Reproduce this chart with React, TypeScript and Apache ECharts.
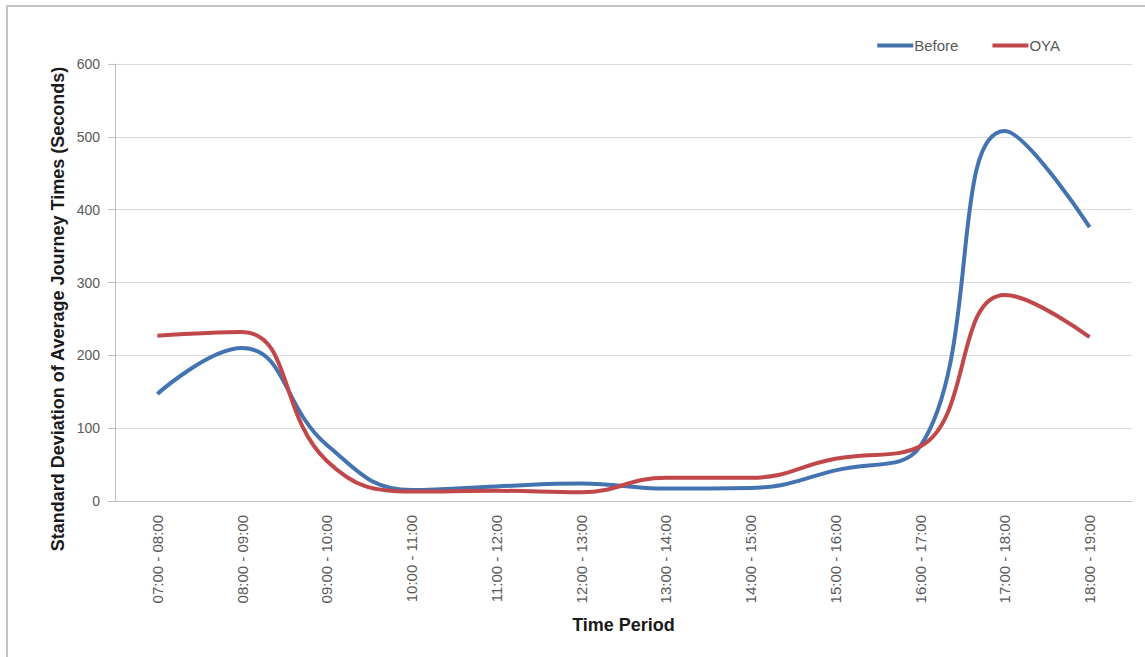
import React, { useEffect, useRef } from "react";
import * as echarts from "echarts";

const categories = [
  "07:00 - 08:00", "08:00 - 09:00", "09:00 - 10:00", "10:00 - 11:00",
  "11:00 - 12:00", "12:00 - 13:00", "13:00 - 14:00", "14:00 - 15:00",
  "15:00 - 16:00", "16:00 - 17:00", "17:00 - 18:00", "18:00 - 19:00",
];
const beforeValues = [147, 210, 77, 15, 20, 24, 17, 18, 42, 75, 508, 376];
const oyaValues = [227, 232, 55, 13, 14, 12, 32, 32, 58, 75, 283, 225];
const yTicks = { min: 0, max: 600, interval: 100 };
const yTitle = "Standard Deviation of Average Journey Times (Seconds)";

export default function App() {
  const ref = useRef<HTMLDivElement>(null);
  useEffect(() => {
    document.body.style.margin = "0";
    const chart = echarts.init(ref.current!, null, { renderer: "svg" });
    const font = "Liberation Sans, Arial, sans-serif";
    chart.setOption({
      animation: false,
      backgroundColor: "#ffffff",
      textStyle: { fontFamily: font },
      graphic: [
        {
          type: "rect",
          shape: { x: 7, y: 6, width: 1160, height: 660 },
          style: { fill: "none", stroke: "#c4c4c4", lineWidth: 2 },
          silent: true,
          z: -1,
        },
        {
          type: "text",
          x: 58,
          y: 309,
          rotation: Math.PI / 2,
          style: {
            text: yTitle,
            fill: "#1a1a1a",
            font: "bold 18px Liberation Sans, Arial, sans-serif",
            align: "center",
            verticalAlign: "middle",
          },
          silent: true,
        },
      ],
      legend: {
        right: 80,
        top: 33,
        itemWidth: 36,
        itemHeight: 4,
        itemGap: 34,
        icon: "rect",
        textStyle: { color: "#595959", fontSize: 15, fontFamily: "Liberation Sans Narrow, Arial Narrow, sans-serif", padding: [0, 0, 0, -4] },
        data: ["Before", "OYA"],
      },
      grid: { left: 115, right: 13, top: 64, bottom: 156 },
      xAxis: {
        type: "category",
        data: categories,
        boundaryGap: true,
        name: "Time Period",
        nameLocation: "middle",
        nameGap: 115,
        nameTextStyle: { fontWeight: "bold", fontSize: 18, color: "#1a1a1a" },
        axisLine: { lineStyle: { color: "#bfbfbf", width: 1 } },
        axisTick: { alignWithLabel: true, length: 6, lineStyle: { color: "#bfbfbf" } },
        axisLabel: { rotate: 90, color: "#595959", fontSize: 15, margin: 14 },
      },
      yAxis: {
        type: "value",
        min: yTicks.min,
        max: yTicks.max,
        interval: yTicks.interval,
        axisLine: { show: true, lineStyle: { color: "#bfbfbf" } },
        axisTick: { show: true, length: 7, lineStyle: { color: "#bfbfbf" } },
        axisLabel: { color: "#595959", fontSize: 14, margin: 15 },
        splitLine: { lineStyle: { color: "#d9d9d9", width: 1 } },
      },
      series: [
        {
          name: "Before",
          type: "line",
          data: beforeValues,
          smooth: 0.45,
          symbol: "none",
          lineStyle: { width: 4, color: "#4373B0" },
          itemStyle: { color: "#4373B0" },
        },
        {
          name: "OYA",
          type: "line",
          data: oyaValues,
          smooth: 0.45,
          symbol: "none",
          lineStyle: { width: 4, color: "#C0474A" },
          itemStyle: { color: "#C0474A" },
        },
      ],
    });
    return () => chart.dispose();
  }, []);
  return <div ref={ref} style={{ width: 1145, height: 657 }} />;
}
